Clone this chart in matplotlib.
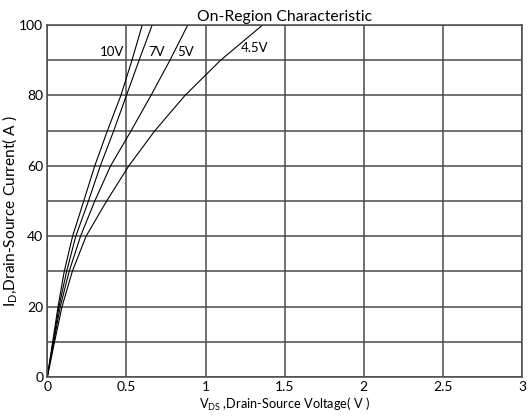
import matplotlib
matplotlib.use("Agg")
from matplotlib import pyplot as plt

# drain current levels (A)
current = [0, 10, 20, 30, 40, 50, 60, 70, 80, 90, 100]

# V_DS (V) read at each current level, per gate voltage
vds_10v = [0, 0.034, 0.068, 0.107, 0.16, 0.23, 0.30, 0.38, 0.465, 0.535, 0.60]
vds_7v = [0, 0.037, 0.074, 0.122, 0.18, 0.26, 0.335, 0.42, 0.50, 0.58, 0.6625]
vds_5v = [0, 0.041, 0.082, 0.138, 0.21, 0.30, 0.40, 0.53, 0.655, 0.775, 0.8875]
vds_45v = [0, 0.046, 0.093, 0.158, 0.245, 0.375, 0.515, 0.68, 0.87, 1.095, 1.36]

curve_names = ['10V', '7V', '5V', '4.5V']
label_x = [0.41, 0.69, 0.875, 1.31]
label_y = [92.4, 92.4, 92.4, 93.6]

plt.rcParams['font.family'] = ['Lato', 'DejaVu Sans']

fig = plt.figure(figsize=(5.29, 4.18), dpi=100)
ax = fig.add_axes([0.0894, 0.098, 0.8974, 0.842])

for vds in [vds_10v, vds_7v, vds_5v, vds_45v]:
    ax.plot(vds, current, color='black', linewidth=0.8)

for name, lx, ly in zip(curve_names, label_x, label_y):
    ax.text(lx, ly, name, fontsize=9.5, ha='center', va='center')

ax.set_xlim(0, 3)
ax.set_ylim(0, 100)
ax.set_xticks([0, 0.5, 1, 1.5, 2, 2.5, 3])
ax.set_xticklabels(['0', '0.5', '1', '1.5', '2', '2.5', '3'])
ax.set_yticks([0, 20, 40, 60, 80, 100])
ax.set_yticks(range(10, 100, 20), minor=True)
ax.tick_params(which='both', length=0, labelsize=10, pad=3)
ax.grid(True, which='both', color='#4a4a4a', linewidth=1.1)
for sp in ax.spines.values():
    sp.set_color('#4a4a4a')
    sp.set_linewidth(1.1)

ax.set_title('On-Region Characteristic', fontsize=11.3, pad=3)
ax.set_xlabel(r'V$_{\mathregular{DS}}$ ,Drain-Source Voltage( V )', fontsize=9.2, labelpad=2)
ax.set_ylabel(r'I$_{\mathregular{D}}$,Drain-Source Current( A )', fontsize=11.2)
ax.yaxis.set_label_coords(-0.058, 0.47)

fig.savefig('out.png', dpi=100)
